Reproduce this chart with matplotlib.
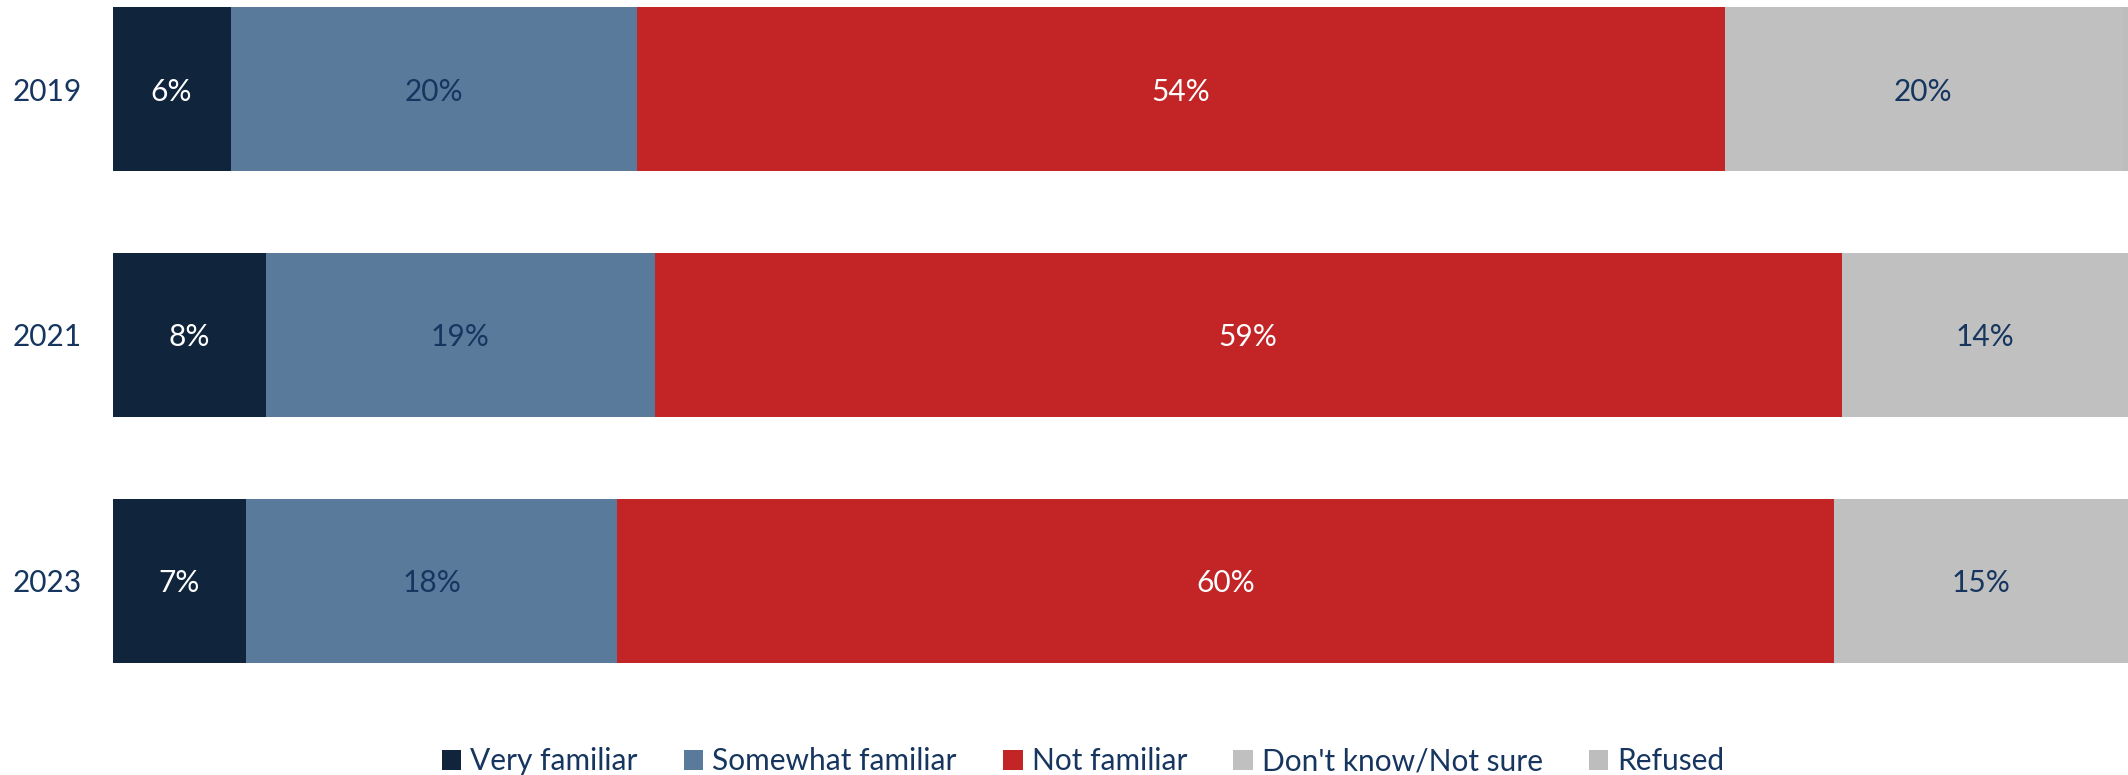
import numpy as np
from matplotlib import pyplot as plt
from matplotlib.patches import Patch

plt.rcParams['font.family'] = ['Lato', 'DejaVu Sans']

years = ['2019', '2021', '2023']
categories = ['Very familiar', 'Somewhat familiar', 'Not familiar',
              "Don't know/Not sure", 'Refused']
very_familiar = [5.85, 7.6, 6.6]
somewhat_familiar = [20.15, 19.3, 18.45]
not_familiar = [54.0, 58.9, 60.35]
dont_know = [19.7, 14.2, 14.6]
refused = [0.3, 0.0, 0.0]

colors = ['#10243B', '#5A7A9C', '#C32526', '#C0C0C0', '#BDBDBD']
text_colors = ['white', '#16365F', 'white', '#16365F', '#16365F']
navy = '#16365F'


def Draw_Chart():
    fig = plt.figure(figsize=(21.28, 7.75), dpi=100)
    ax = fig.add_axes([112.6 / 2128, 75 / 775, 1 - 112.6 / 2128, 700 / 775])

    series = [very_familiar, somewhat_familiar, not_familiar, dont_know, refused]
    y = np.arange(len(years))
    left = np.zeros(len(years))
    for i in range(len(series)):
        vals = np.array(series[i])
        ax.barh(y, vals, left=left, height=0.667, color=colors[i],
                edgecolor='none', label=categories[i])
        for j in range(len(years)):
            # label only visible segments
            if vals[j] >= 1:
                ax.text(left[j] + vals[j] / 2, y[j], '%d%%' % round(vals[j]),
                        ha='center', va='center_baseline', fontsize=21.5,
                        color=text_colors[i])
        left = left + vals

    ax.set_xlim(0, 100)
    ax.set_ylim(2.484, -0.362)
    ax.set_yticks(y)
    ax.set_yticklabels(years, fontsize=21.5, color=navy, va='center_baseline')
    ax.tick_params(axis='y', length=0, pad=22)
    ax.set_xticks([])
    for s in ax.spines.values():
        s.set_visible(False)

    handles = [Patch(facecolor=colors[i], edgecolor='none') for i in range(len(categories))]
    leg = fig.legend(handles, categories, loc='center', bbox_to_anchor=(0.509, 0.018),
                     ncol=5, frameon=False, fontsize=21.5, handlelength=0.65,
                     handleheight=0.65, handletextpad=0.3, columnspacing=1.55)
    for t in leg.get_texts():
        t.set_color(navy)

    fig.savefig('out.png', dpi=100)


if __name__ == '__main__':
    Draw_Chart()
